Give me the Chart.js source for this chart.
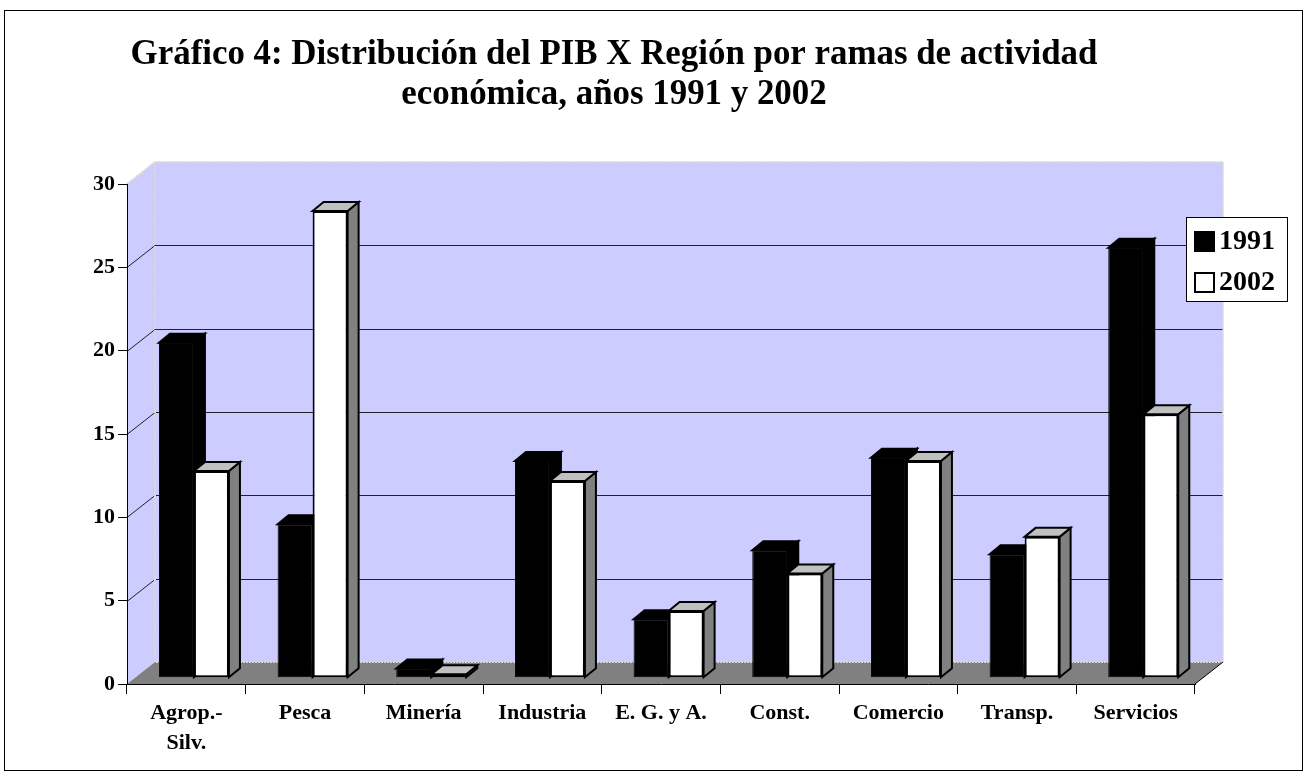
<!DOCTYPE html>
<html><head><meta charset="utf-8">
<script src="https://cdn.jsdelivr.net/npm/chart.js@4/dist/chart.umd.min.js"></script>
<style>html,body{margin:0;padding:0;background:#fff}#wrap{width:1307px;height:777px;position:relative}canvas{display:block}</style>
</head><body><div id="wrap"><canvas id="c" width="1307" height="777"></canvas></div>
<script>
const categories = [["Agrop.-","Silv."],"Pesca","Minería","Industria","E. G. y A.","Const.","Comercio","Transp.","Servicios"];
const seriesNames = ["1991","2002"];
const values1991 = [20.1, 9.2, 0.55, 13.0, 3.5, 7.65, 13.2, 7.4, 25.8];
const values2002 = [12.4, 28.0, 0.2, 11.8, 4.0, 6.25, 13.0, 8.45, 15.8];
const titleLines = ["Gráfico 4: Distribución del PIB X Región por ramas de actividad", "económica, años 1991 y 2002"];
const yMin = 0, yMax = 30, yStep = 5;

const FONT = '"Liberation Serif","Times New Roman",serif';
const WALL = {dx: 28, dy: 22};
const BAR = {ox: 7.6, oy: 6.3, dx: 11, dy: 9};
const LAV = '#CCCCFF', FLOOR = '#808080', EDGE = '#d8d8d8';

function drawFaces(ctx, meta, topColor, sideColor) {
  meta.data.forEach(el => {
    const p = el.getProps(['x', 'y', 'base', 'width'], true);
    const l = p.x - p.width / 2, r = p.x + p.width / 2, t = Math.min(p.y, p.base), b = Math.max(p.y, p.base);
    ctx.lineWidth = 2; ctx.strokeStyle = '#000'; ctx.lineJoin = 'miter';
    ctx.beginPath();
    ctx.moveTo(r, t); ctx.lineTo(r + BAR.dx, t - BAR.dy); ctx.lineTo(r + BAR.dx, b - BAR.dy); ctx.lineTo(r, b); ctx.closePath();
    ctx.fillStyle = sideColor; ctx.fill(); ctx.stroke();
    ctx.beginPath();
    ctx.moveTo(l, t); ctx.lineTo(l + BAR.dx, t - BAR.dy); ctx.lineTo(r + BAR.dx, t - BAR.dy); ctx.lineTo(r, t); ctx.closePath();
    ctx.fillStyle = topColor; ctx.fill(); ctx.stroke();
  });
}

const scenePlugin = {
  id: 'scene3d',
  beforeDraw(chart) {
    const ctx = chart.ctx, ca = chart.chartArea, ys = chart.scales.y;
    const L = ca.left, R = ca.right, B = ys.getPixelForValue(yMin), T = ys.getPixelForValue(yMax);
    const dx = WALL.dx, dy = WALL.dy;
    ctx.save();
    ctx.fillStyle = '#fff'; ctx.fillRect(0, 0, chart.width, chart.height);
    ctx.fillStyle = LAV; ctx.fillRect(L + dx, T - dy, R - L, B - T);
    ctx.beginPath(); ctx.moveTo(L, T); ctx.lineTo(L + dx, T - dy); ctx.lineTo(L + dx, B - dy); ctx.lineTo(L, B); ctx.closePath(); ctx.fill();
    ctx.fillStyle = FLOOR;
    ctx.beginPath(); ctx.moveTo(L, B); ctx.lineTo(L + dx, B - dy); ctx.lineTo(R + dx, B - dy); ctx.lineTo(R, B); ctx.closePath(); ctx.fill();
    ctx.strokeStyle = '#222'; ctx.lineWidth = 1;
    for (let v = yMin + yStep; v < yMax; v += yStep) {
      const y = Math.round(ys.getPixelForValue(v)) + 0.5;
      ctx.beginPath(); ctx.moveTo(L, y); ctx.lineTo(L + dx, y - dy); ctx.lineTo(R + dx, y - dy); ctx.stroke();
    }
    ctx.strokeStyle = EDGE; ctx.lineWidth = 2; ctx.setLineDash([2, 1]);
    ctx.beginPath(); ctx.moveTo(L, T); ctx.lineTo(L + dx, T - dy); ctx.lineTo(R + dx, T - dy); ctx.lineTo(R + dx, B - dy);
    ctx.moveTo(L + dx, T - dy); ctx.lineTo(L + dx, B - dy); ctx.lineTo(R + dx, B - dy); ctx.stroke();
    ctx.setLineDash([]);
    ctx.strokeStyle = '#000'; ctx.lineWidth = 1;
    ctx.beginPath(); ctx.moveTo(R, B); ctx.lineTo(R + dx, B - dy); ctx.stroke();
    ctx.restore();
  },
  beforeDatasetsDraw(chart) {
    const ctx = chart.ctx;
    ctx.save();
    ctx.translate(BAR.ox, -BAR.oy);
    drawFaces(ctx, chart.getDatasetMeta(0), '#000', '#000');
  },
  afterDatasetDraw(chart, args) {
    if (args.index === 1) drawFaces(chart.ctx, args.meta, '#C0C0C0', '#808080');
  },
  afterDatasetsDraw(chart) {
    chart.ctx.restore();
  },
  afterDraw(chart) {
    const ctx = chart.ctx;
    ctx.save();
    ctx.fillStyle = '#000'; ctx.textAlign = 'center'; ctx.textBaseline = 'middle';
    let size = 30;
    ctx.font = 'bold ' + size + 'px ' + FONT;
    const w = ctx.measureText(titleLines[0]).width;
    size = size * 967 / w;
    ctx.font = 'bold ' + size.toFixed(2) + 'px ' + FONT;
    ctx.fillText(titleLines[0], 614, 55);
    ctx.fillText(titleLines[1], 614, 95);
    const lx = 1186, ly = 217, lw = 101, lh = 84;
    ctx.fillStyle = '#fff'; ctx.fillRect(lx, ly, lw, lh);
    ctx.strokeStyle = '#000'; ctx.lineWidth = 1; ctx.strokeRect(lx + 0.5, ly + 0.5, lw, lh);
    ctx.font = 'bold 28px ' + FONT; ctx.textAlign = 'left'; ctx.textBaseline = 'middle';
    chart.data.datasets.forEach((ds, i) => {
      const cy = 241 + i * 41;
      ctx.fillStyle = ds.backgroundColor; ctx.fillRect(1195, cy - 9, 19, 19);
      ctx.lineWidth = 2; ctx.strokeStyle = '#000'; ctx.strokeRect(1195, cy - 9, 19, 19);
      ctx.fillStyle = '#000'; ctx.fillText(ds.label, 1219, cy + 1);
    });
    ctx.lineWidth = 1; ctx.strokeStyle = '#000';
    ctx.strokeRect(4.5, 10.5, 1298, 760);
    ctx.restore();
  }
};

const tickFont = {family: FONT, size: 22, weight: 'bold', lineHeight: 30 / 22};

new Chart(document.getElementById('c'), {
  type: 'bar',
  data: {
    labels: categories,
    datasets: [
      {label: seriesNames[0], data: values1991, backgroundColor: '#000000', borderColor: '#000', borderWidth: 1, borderSkipped: false, clip: false},
      {label: seriesNames[1], data: values2002, backgroundColor: '#FFFFFF', borderColor: '#000', borderWidth: 2, borderSkipped: false, clip: false}
    ]
  },
  options: {
    responsive: false,
    animation: false,
    events: [],
    layout: {padding: {left: 0, top: 184, right: 112, bottom: 0}},
    datasets: {bar: {barPercentage: 1, categoryPercentage: 0.59}},
    plugins: {legend: {display: false}, tooltip: {enabled: false}, title: {display: false}},
    scales: {
      x: {
        ticks: {font: tickFont, color: '#000', padding: 4, maxRotation: 0, autoSkip: false},
        grid: {offset: true, drawOnChartArea: false, drawTicks: true, tickLength: 10, color: '#000', lineWidth: 1},
        border: {display: true, color: '#000', width: 1},
        afterFit: s => { s.height = 93; }
      },
      y: {
        min: yMin, max: yMax,
        ticks: {stepSize: yStep, font: tickFont, color: '#000', padding: 3},
        grid: {drawOnChartArea: false, drawTicks: true, tickLength: 9, color: '#000', lineWidth: 1},
        border: {display: true, color: '#000', width: 1},
        afterFit: s => { s.width = 127; }
      }
    }
  },
  plugins: [scenePlugin]
});
</script>
</body></html>
